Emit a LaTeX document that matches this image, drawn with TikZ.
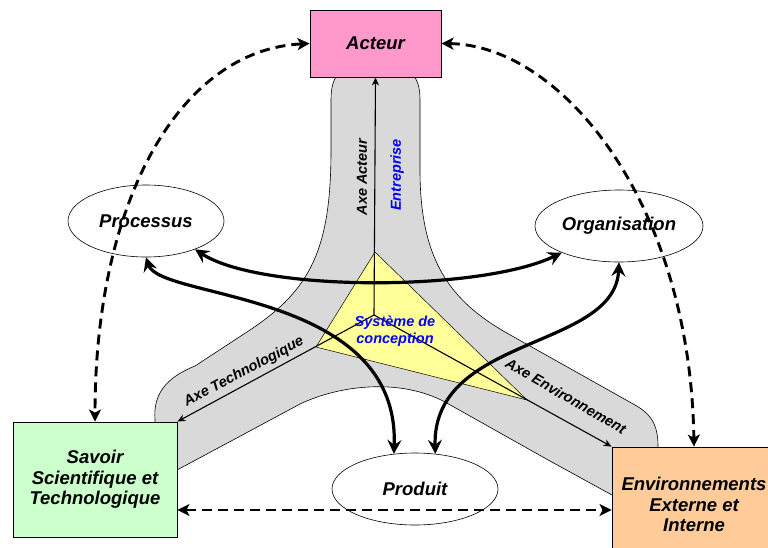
\documentclass[tikz,border=0pt]{standalone}
\usepackage{fontspec}
\setmainfont{Liberation Sans}
\usetikzlibrary{arrows.meta,shapes.geometric}
\definecolor{rose}{HTML}{FF99CC}
\definecolor{vert}{HTML}{CCFFCC}
\definecolor{orange}{HTML}{FFCC99}
\definecolor{jaune}{HTML}{FFFF99}
\definecolor{bleu}{HTML}{0000FF}
\begin{document}
\begin{tikzpicture}[x=1pt,y=-1pt]
\tikzstyle{every node}+=[inner sep=0pt]
\tikzstyle{titre}=[font=\fontsize{18.5}{20.5}\selectfont\bfseries\itshape, align=center]
\tikzstyle{petit}=[font=\fontsize{14.5}{17}\selectfont\bfseries\itshape, align=center]
\tikzstyle{boite}=[titre, draw=black, line width=0.9pt, minimum width=164, minimum height=115]
\tikzstyle{bulle}=[titre, ellipse, draw=black, line width=0.6pt, fill=white, minimum height=72]
\tikzstyle{fleche}=[line width=3.2pt, {Stealth[length=14pt,width=14pt,inset=5pt]}-{Stealth[length=14pt,width=14pt,inset=5pt]}]
\tikzstyle{tirets}=[line width=2.9pt, dash pattern=on 10pt off 6pt, {Stealth[length=12pt,width=12pt,inset=3pt]}-{Stealth[length=12pt,width=12pt,inset=3pt]}]
\tikzstyle{axe}=[line width=1.1pt, -{Stealth[length=8pt,width=7pt]}]
\useasboundingbox (0,0) rectangle (768,547);
\clip (0,0) rectangle (768,547);
\draw [fill=black!15, line width=0.6pt] (331,150) -- (331,100) .. controls (331,75) and (340,68) .. (360,68) -- (390,68)
  .. controls (410,68) and (420,75) .. (420,100) -- (420,170) .. controls (420,260) and (450,300) .. (505,332)
  -- (635,405) .. controls (655,416) and (658,430) .. (658,447) -- (658,480) -- (612,495) -- (550,461) -- (445,402)
  .. controls (400,378) and (340,385) .. (300,404) -- (233,440) -- (177,470) -- (155,440) -- (155,420)
  .. controls (153,395) and (165,378) .. (195,366) -- (250,330) .. controls (310,290) and (331,250) .. (331,150) -- cycle;
\draw [fill=jaune, line width=0.5pt] (375,252) -- (316,347) -- (527,400) -- cycle;
\node [boite, fill=rose, minimum width=131, minimum height=67] (acteur) at (375.5,43.5) {Acteur};
\node [boite, fill=vert] (savoir) at (95,479.5) {Savoir\\Scientifique et\\Technologique};
\node [boite, fill=orange] (env) at (694,504.5) {Environnements\\Externe et\\Interne};
\node [bulle, minimum width=156] (proc) at (146,221) {Processus};
\node [bulle, minimum width=168] (org) at (619,226) {Organisation};
\node [bulle, minimum width=166] (prod) at (415,489) {Produit};
\coordinate (hub) at (374,315);
\coordinate (basse) at (0,510);
\draw [axe] (hub) -- (acteur.south);
\draw [axe] (hub) -- (savoir.north east);
\draw [axe] (hub) -- (env.north west);
\node [petit, rotate=90] (axeact) at (362,177) {Axe Acteur};
\node [petit, rotate=90, text=bleu] (entr) at (397,175) {Entreprise};
\node [petit, rotate=28] (axetech) at (244,372) {Axe Technologique};
\node [petit, rotate=-30] (axeenv) at (566,396) {Axe Environnement};
\node [petit, text=bleu] (syst) at (395,331) {Système de\\conception};
\draw [fleche] (proc.-30) .. controls (260,292) and (480,292) .. (org.205);
\draw [fleche] (proc.-90) .. controls (160,300) and (400,290) .. (prod.121);
\draw [fleche] (org.-90) .. controls (615,350) and (432,335) .. (prod.60);
\draw [tirets] (acteur.west) .. controls (180,50) and (95,200) .. (savoir.north);
\draw [tirets] (acteur.east) .. controls (560,45) and (690,200) .. (env.north);
\draw [tirets] (savoir.east |- basse) -- (env.west |- basse);
\end{tikzpicture}
\end{document}
